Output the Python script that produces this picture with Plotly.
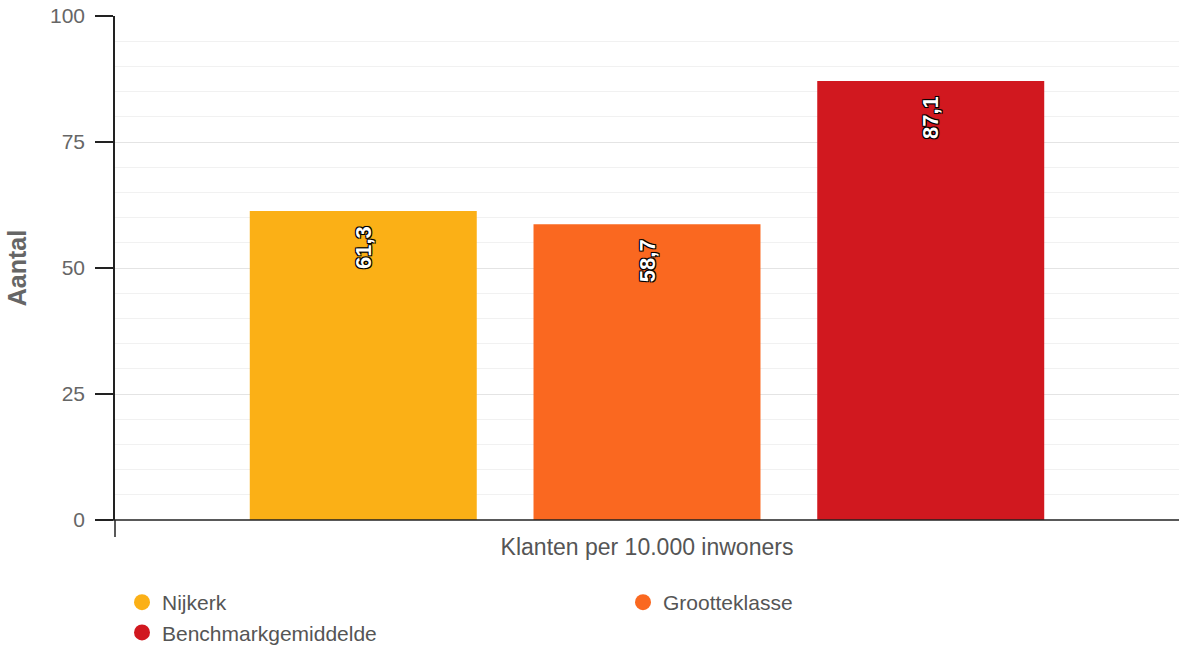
import plotly.graph_objects as go

category = ["Klanten per 10.000 inwoners"]
series_names = ["Nijkerk", "Grootteklasse", "Benchmarkgemiddelde"]
series_values = [[61.3], [58.7], [87.1]]
series_labels = ["61,3", "58,7", "87,1"]
colors = ["#FBB016", "#FA6820", "#D1181F"]
y_ticks = [0, 25, 50, 75, 100]

fig = go.Figure()
outline = "-1px -1px 0 #000, 1px -1px 0 #000, -1px 1px 0 #000, 1px 1px 0 #000, 0 0 2px #000"
pad = "\u00a0\u00a0"
for name, vals, lab, col in zip(series_names, series_values, series_labels, colors):
    fig.add_trace(go.Bar(
        x=category, y=vals, name=name, marker=dict(color=col, line=dict(width=0)),
        text=[lab + pad], textposition="inside", insidetextanchor="end", textangle=-90,
        textfont=dict(color="white", size=22, family="Liberation Sans", weight="bold", shadow=outline),
        showlegend=False, hoverinfo="skip",
    ))
# legend entries (circle symbols)
for name, col in zip(series_names, colors):
    fig.add_trace(go.Scatter(x=[None], y=[None], mode="markers", name=name,
                             marker=dict(symbol="circle", size=20, color=col), showlegend=True))

fig.update_layout(
    width=1179, height=647,
    margin=dict(l=115, r=0, t=16, b=127),
    plot_bgcolor="white", paper_bgcolor="white",
    barmode="group", bargap=0.2, bargroupgap=0.2,
    font=dict(family="Liberation Sans", color="#666666"),
    xaxis=dict(type="category", showgrid=False, showline=False, ticks="", automargin=False,
               tickfont=dict(size=23, color="#555555"), range=[-0.5, 0.5], fixedrange=True,
               ticklabelstandoff=11),
    yaxis=dict(range=[0, 100], tickvals=y_ticks, ticks="outside", ticklen=18, tickwidth=1.5,
               tickcolor="#222222", showline=True, linecolor="#222222", linewidth=1.5,
               gridcolor="#e4e4e4", gridwidth=1, zeroline=False, automargin=False,
               minor=dict(dtick=5, showgrid=True, gridcolor="#f1f1f1", gridwidth=1),
               tickfont=dict(size=21, color="#666666"), ticklabelstandoff=6,
               fixedrange=True,
               title=dict(text="<b>Aantal</b>", font=dict(size=25, color="#666666"), standoff=16)),
    legend=dict(orientation="h", x=7/1064, xanchor="left", yref="container", y=1 - 582/647,
                yanchor="top", entrywidth=456, entrywidthmode="pixels",
                font=dict(size=21, color="#555555"), itemsizing="trace", tracegroupgap=0),
    shapes=[
        dict(type="line", xref="paper", yref="paper", x0=-18/1064, x1=1, y0=0, y1=0,
             line=dict(color="#222222", width=1.5)),
        dict(type="line", xref="paper", yref="paper", x0=0, x1=0, y0=0, y1=-17/504,
             line=dict(color="#222222", width=1.5)),
    ],
)

fig.write_html("out.html", config={"displayModeBar": False},
               post_script="document.body.style.margin='0';")
